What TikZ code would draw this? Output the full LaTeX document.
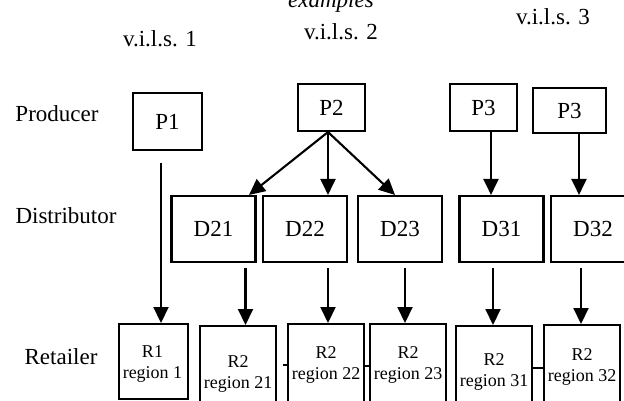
\documentclass[tikz,border=0pt]{standalone}
\usepackage{fontspec}
\setmainfont{Liberation Serif}
\usetikzlibrary{arrows.meta,positioning,calc}

\begin{document}
\begin{tikzpicture}[x=1pt, y=-1pt,
    box/.style={draw, line width=2.1pt, inner sep=0pt, font=\fontsize{23}{27}\selectfont},
    rbox/.style={draw, line width=2.1pt, inner sep=0pt, anchor=north west},
    rtxt/.style={font=\fontsize{18}{21}\selectfont, align=center, inner sep=0pt},
    lab/.style={font=\fontsize{23}{27}\selectfont, anchor=base, inner sep=0pt},
    arr/.style={line width=2.1pt, -{Triangle[length=16pt,width=15pt]}}]
    \useasboundingbox (0,0) rectangle (624,401);
    \clip (0,0) rectangle (624,401);

    % 标题
    \node[lab, font=\itshape\fontsize{23}{27}\selectfont] (ex) at (331,8) {examples};
    \node[lab] (v1) at (160,47) {v.i.l.s. 1};
    \node[lab] (v2) at (341,40) {v.i.l.s. 2};
    \node[lab] (v3) at (553,25) {v.i.l.s. 3};

    % 层名
    \node[lab] (prod) at (57,122) {Producer};
    \node[lab] (dist) at (66,223) {Distributor};
    \node[lab] (reta) at (61,364) {Retailer};

    % Producer
    \node[box, minimum width=69, minimum height=57] (P1) at (167.5,121.5) {P1};
    \node[box, minimum width=67, minimum height=47] (P2) at (331.5,107.5) {P2};
    \node[box, minimum width=67, minimum height=47] (P3a) at (483.5,107.5) {P3};
    \node[box, minimum width=73, minimum height=45] (P3b) at (569.5,110.5) {P3};

    % Distributor
    \foreach \nm/\xc in {D21/213.5, D22/305, D23/400, D31/501.5, D32/593} {
        \node[box, minimum width=84, minimum height=66] (\nm) at (\xc,229) {\nm};
    }

    % Retailer
    \node[rbox, minimum width=69, minimum height=75] (R1) at (118,323) {};
    \node[rtxt] (R1t) at (152.5,364) {R1\\region 1};
    \foreach \nm/\xl/\yt/\reg/\dy in {R21/199/325/21/49, R22/287/323/22/42, R23/369/323/23/42,
                                      R31/455/325/31/47, R32/543/324/32/43} {
        \node[rbox, minimum width=76, minimum height=100] (\nm) at (\xl,\yt) {};
        \node[rtxt] (\nm t) at ($(\nm.north)+(0,\dy)$) {R2\\region \reg};
    }

    % 箭头
    \coordinate (k1) at (161,0);
    \draw[arr, shorten <=12pt] (P1.south -| k1) -- (R1.north -| k1);
    \coordinate (k2) at (328,0);
    \coordinate (k21) at (249,0);
    \coordinate (k23) at (395,0);
    \draw[arr] (P2.south -| k2) -- (D21.north -| k21);
    \draw[arr] (P2.south -| k2) -- (D22.north -| k2);
    \draw[arr] (P2.south -| k2) -- (D23.north -| k23);
    \coordinate (k31) at (491,0);
    \coordinate (k32) at (579,0);
    \draw[arr] (P3a.south -| k31) -- (D31.north -| k31);
    \draw[arr] (P3b.south -| k32) -- (D32.north -| k32);
    \foreach \d/\r/\ax in {D21/R21/245.5, D22/R22/328, D23/R23/405, D31/R31/493, D32/R32/581} {
        \coordinate (a\r) at (\ax,0);
        \draw[arr, shorten <=5pt] (\d.south -| a\r) -- (\r.north -| a\r);
    }

    % 短线
    \coordinate (t1) at (283,365);
    \coordinate (t2) at (366,366);
    \coordinate (t3) at (537,368);
    \draw[line width=2.1pt] (t1) -- (t1 -| R22.west);
    \draw[line width=2.1pt] (t2 -| R22.east) -- (t2 -| R23.west);
    \draw[line width=2.1pt] (t3 -| R31.east) -- (t3 -| R32.west);
\end{tikzpicture}
\end{document}
